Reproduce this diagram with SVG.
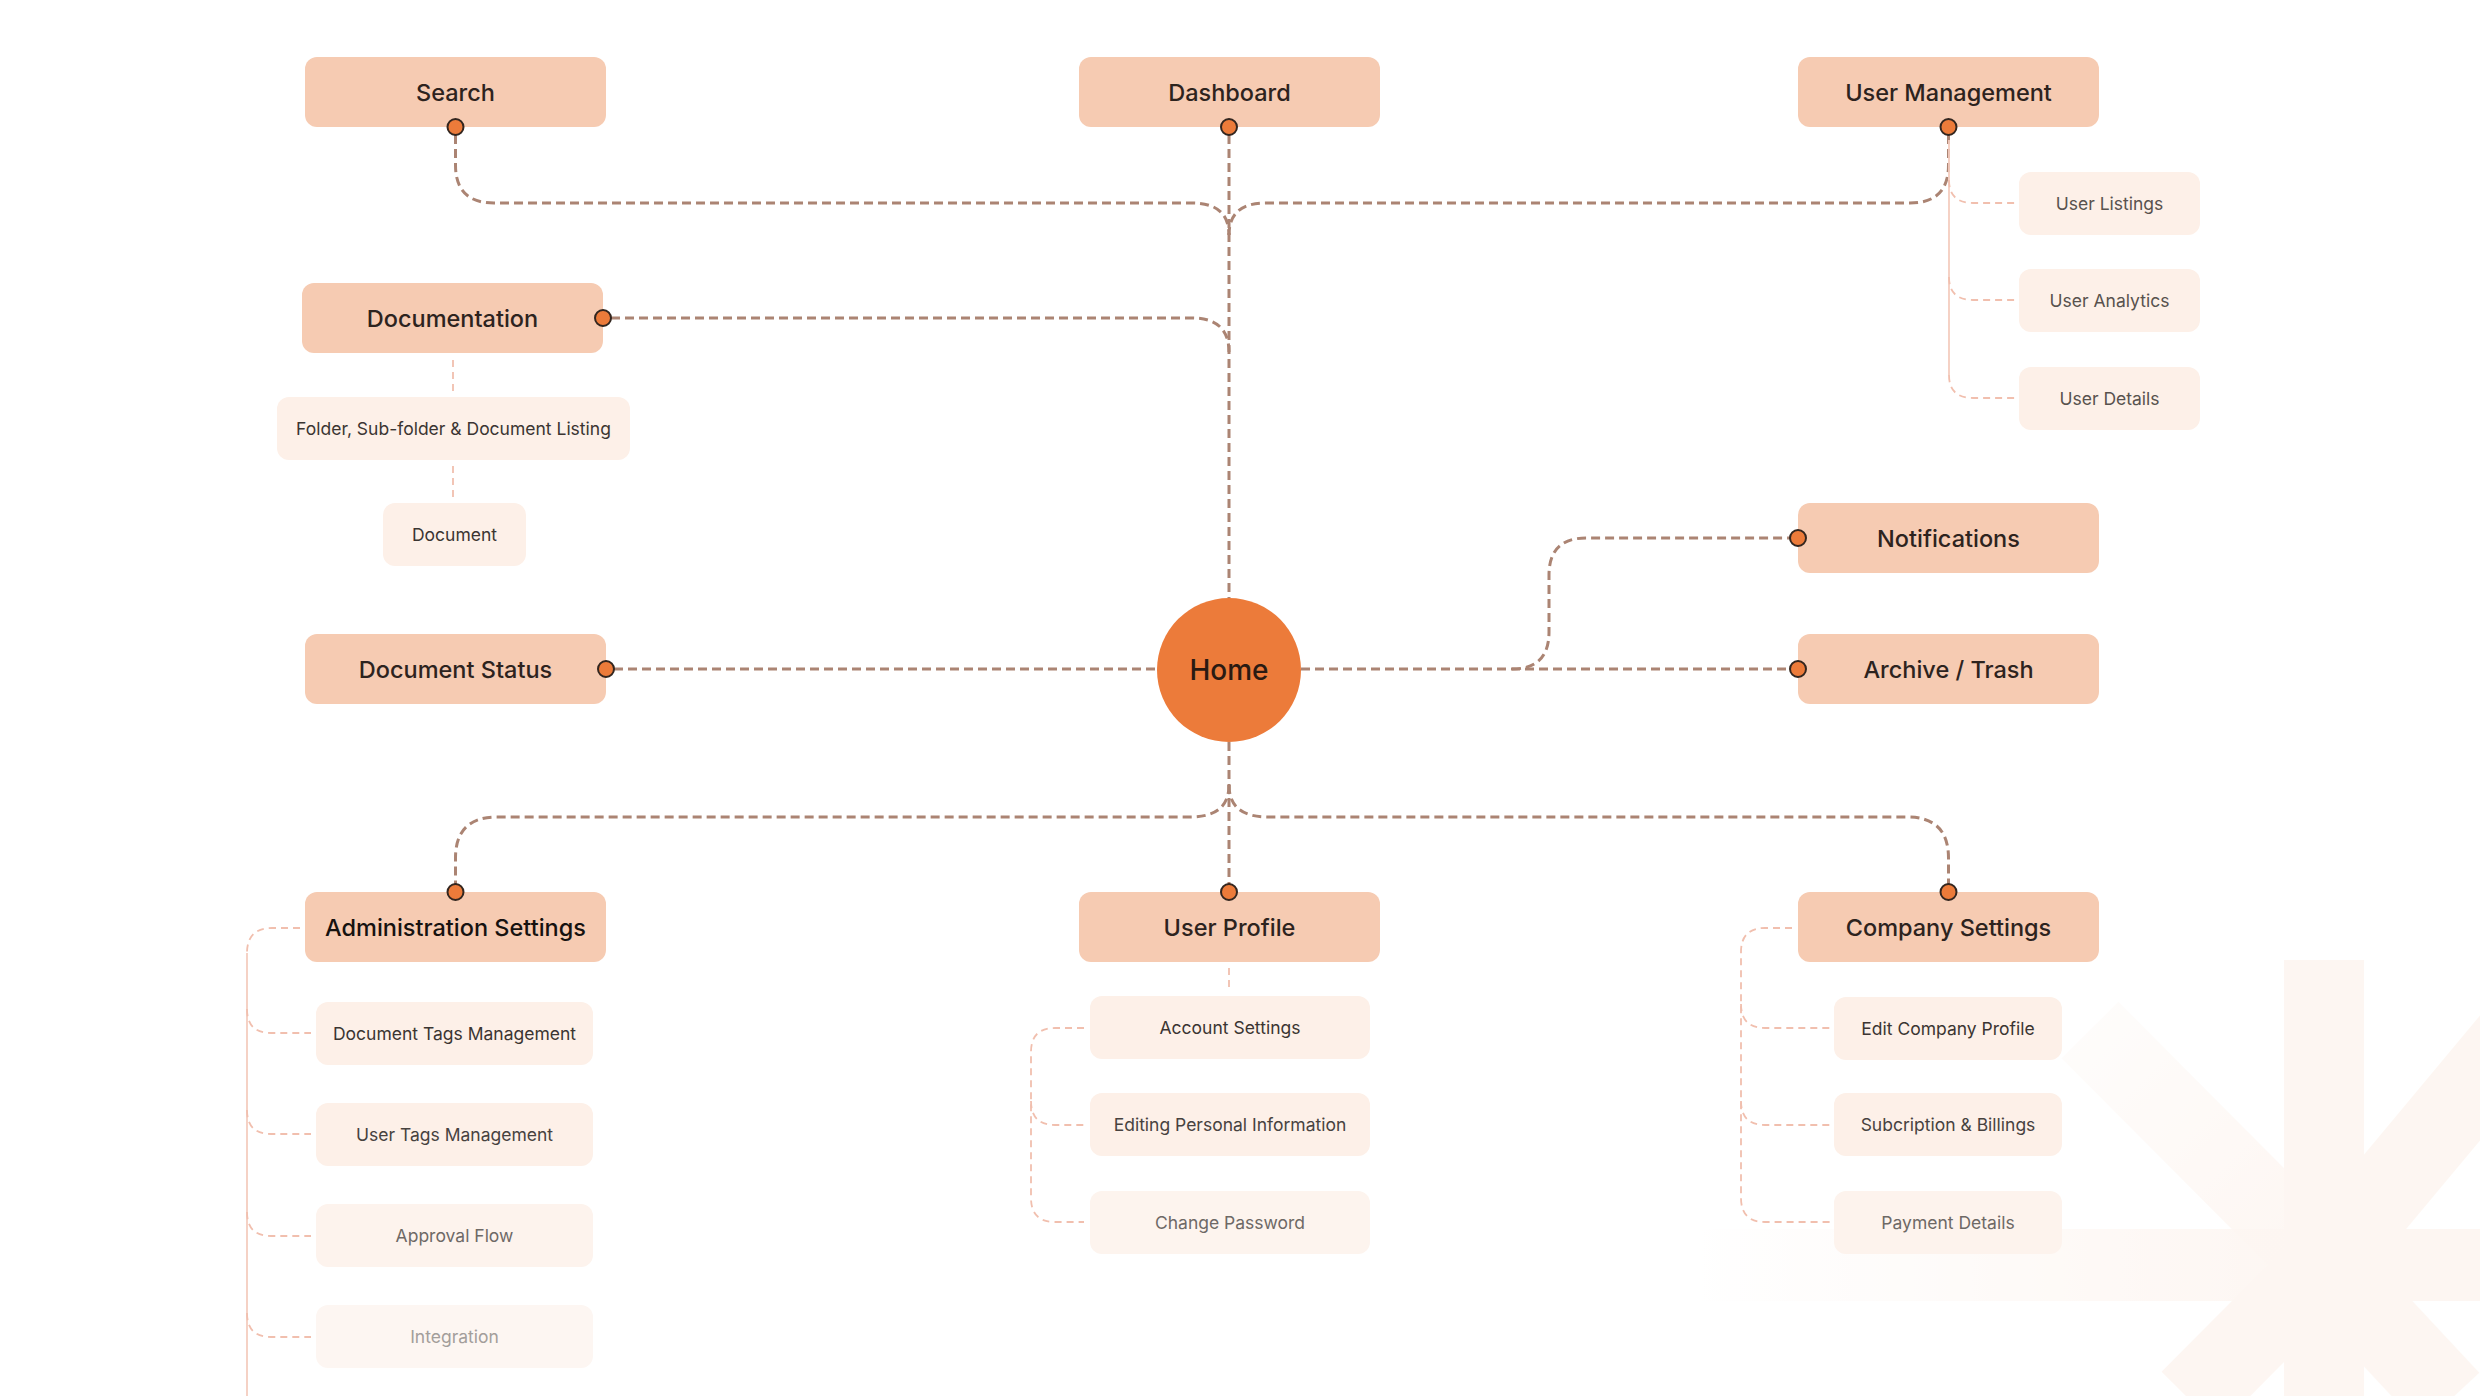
<svg xmlns="http://www.w3.org/2000/svg" width="2480" height="1396" viewBox="0 0 2480 1396">
<defs>
<linearGradient id="fadeL" x1="1700" y1="0" x2="2300" y2="0" gradientUnits="userSpaceOnUse">
<stop offset="0" stop-color="#fcebe0" stop-opacity="0"/>
<stop offset="1" stop-color="#fcebe0" stop-opacity="1"/>
</linearGradient>
<linearGradient id="fadeUL" x1="2090" y1="1030" x2="2324" y2="1265" gradientUnits="userSpaceOnUse">
<stop offset="0" stop-color="#fcebe0" stop-opacity="0.3"/>
<stop offset="1" stop-color="#fcebe0" stop-opacity="1"/>
</linearGradient>
<style>
text{font-family:Inter,"Liberation Sans",sans-serif;text-anchor:middle;dominant-baseline:central}
.main rect{fill:#f6cbb2}
.main text{font-size:23.5px;font-weight:500;fill:#2d231e}
.sub rect{fill:#fdf0e8}
.sub text{font-size:17.5px;font-weight:400;fill:#3b3532}
.dot{fill:#ec7b3a;stroke:#33261f;stroke-width:2}
.c{fill:none;stroke:#ab8473;stroke-width:3;stroke-dasharray:9 5}
.l{fill:none;stroke:#f1bfae;stroke-width:1.8;stroke-dasharray:7 5}
.ls{fill:none;stroke:#f4cdbf;stroke-width:1.8}
</style>
</defs>
<rect width="2480" height="1396" fill="#ffffff"/>
<g id="bg-mark" opacity="0.4" stroke-linecap="butt">
<line x1="1700" y1="1265" x2="2480" y2="1265" stroke="url(#fadeL)" stroke-width="72"/>
<line x1="2324" y1="1265" x2="2090" y2="1030" stroke="url(#fadeUL)" stroke-width="80"/>
<g stroke="#fcebe0" stroke-width="80">
<line x1="2324" y1="960" x2="2324" y2="1396"/>
<line x1="2324" y1="1265" x2="2520" y2="1030"/>
<line x1="2324" y1="1265" x2="2190" y2="1400"/>
<line x1="2324" y1="1265" x2="2450" y2="1400"/>
</g>
</g>
<g id="connectors">
<path class="c" d="M455.5,135 V165 Q455.5,203 494,203 H1192 Q1229,203 1229,235"/>
<path class="c" d="M1948.5,135 V165 Q1948.5,203 1910,203 H1266 Q1229,203 1229,235"/>
<path class="c" d="M1229,135 V598"/>
<path class="c" d="M611,318 H1192 Q1229,318 1229,352"/>
<path class="c" d="M614,669 H1157"/>
<path class="c" d="M1301,669 H1790"/>
<path class="c" d="M1512,669 Q1549,669 1549,632 V575 Q1549,538 1586,538 H1790"/>
<path class="c" d="M1229,742 V884"/>
<path class="c" d="M1229,785 Q1229,817 1190,817 H497 Q455.5,817 455.5,858 V884"/>
<path class="c" d="M1229,785 Q1229,817 1268,817 H1907 Q1948.5,817 1948.5,858 V884"/>
<path class="l" d="M453,360 V393"/>
<path class="l" d="M453,466 V499"/>
<path class="l" d="M1229,968 V992"/>
<path class="ls" d="M1949,140 V375"/>
<path class="l" d="M1949,180 Q1949,203 1973,203 H2015"/>
<path class="l" d="M1949,277 Q1949,300 1973,300 H2015"/>
<path class="l" d="M1949,375 Q1949,398 1973,398 H2015"/>
<path class="l" d="M300,928 H272 Q247,928 247,953"/>
<path class="ls" d="M247,953 V1396"/>
<path class="l" d="M247,1009 Q247,1033 271,1033 H311"/>
<path class="l" d="M247,1110 Q247,1134 271,1134 H311"/>
<path class="l" d="M247,1212 Q247,1236 271,1236 H311"/>
<path class="l" d="M247,1313 Q247,1337 271,1337 H311"/>
<path class="l" d="M1084,1028 H1055 Q1031,1028 1031,1052 V1198 Q1031,1222 1055,1222 H1084"/>
<path class="l" d="M1031,1101 Q1031,1125 1055,1125 H1084"/>
<path class="l" d="M1792,928 H1765 Q1741,928 1741,952 V1198 Q1741,1222 1765,1222 H1830"/>
<path class="l" d="M1741,1004 Q1741,1028 1765,1028 H1830"/>
<path class="l" d="M1741,1101 Q1741,1125 1765,1125 H1830"/>
</g>
<g id="home"><circle cx="1229" cy="670" r="72" fill="#ec7b3a"/><text x="1229" y="670" style="font-size:28px;font-weight:500;fill:#2a1a12">Home</text></g>
<g id="search" class="main"><rect x="305" y="57" width="301" height="70" rx="12"/><text x="455.5" y="92">Search</text><circle class="dot" cx="455.5" cy="127" r="8"/></g>
<g id="dashboard" class="main"><rect x="1079" y="57" width="301" height="70" rx="12"/><text x="1229.5" y="92">Dashboard</text><circle class="dot" cx="1229" cy="127" r="8"/></g>
<g id="user-management" class="main"><rect x="1798" y="57" width="301" height="70" rx="12"/><text x="1948.5" y="92">User Management</text><circle class="dot" cx="1948.5" cy="127" r="8"/></g>
<g id="documentation" class="main"><rect x="302" y="283" width="301" height="70" rx="12"/><text x="452.5" y="318">Documentation</text><circle class="dot" cx="603" cy="318" r="8"/></g>
<g id="document-status" class="main"><rect x="305" y="634" width="301" height="70" rx="12"/><text x="455.5" y="669">Document Status</text><circle class="dot" cx="606" cy="669" r="8"/></g>
<g id="notifications" class="main"><rect x="1798" y="503" width="301" height="70" rx="12"/><text x="1948.5" y="538">Notifications</text><circle class="dot" cx="1798" cy="538" r="8"/></g>
<g id="archive" class="main"><rect x="1798" y="634" width="301" height="70" rx="12"/><text x="1948.5" y="669">Archive / Trash</text><circle class="dot" cx="1798" cy="669" r="8"/></g>
<g id="admin-settings" class="main"><rect x="305" y="892" width="301" height="70" rx="12"/><text x="455.5" y="927" style="fill:#161210">Administration Settings</text><circle class="dot" cx="455.5" cy="892" r="8"/></g>
<g id="user-profile" class="main"><rect x="1079" y="892" width="301" height="70" rx="12"/><text x="1229.5" y="927">User Profile</text><circle class="dot" cx="1229" cy="892" r="8"/></g>
<g id="company-settings" class="main"><rect x="1798" y="892" width="301" height="70" rx="12"/><text x="1948.5" y="927">Company Settings</text><circle class="dot" cx="1948.5" cy="892" r="8"/></g>
<g id="user-listings" class="sub"><rect x="2019" y="172" width="181" height="63" rx="12"/><text x="2109.5" y="203.5" style="fill:#58524e">User Listings</text></g>
<g id="user-analytics" class="sub"><rect x="2019" y="269" width="181" height="63" rx="12"/><text x="2109.5" y="300.5" style="fill:#58524e">User Analytics</text></g>
<g id="user-details" class="sub"><rect x="2019" y="367" width="181" height="63" rx="12"/><text x="2109.5" y="398.5" style="fill:#58524e">User Details</text></g>
<g id="folder-listing" class="sub"><rect x="277" y="397" width="353" height="63" rx="12"/><text x="453.5" y="428.5">Folder, Sub-folder &amp; Document Listing</text></g>
<g id="document" class="sub"><rect x="383" y="503" width="143" height="63" rx="12"/><text x="454.5" y="534.5">Document</text></g>
<g id="doc-tags" class="sub"><rect x="316" y="1002" width="277" height="63" rx="12"/><text x="454.5" y="1033.5">Document Tags Management</text></g>
<g id="user-tags" class="sub"><rect x="316" y="1103" width="277" height="63" rx="12"/><text x="454.5" y="1134.5" style="fill:#47423f">User Tags Management</text></g>
<g id="approval-flow" class="sub"><rect x="316" y="1204" width="277" height="63" rx="12" style="fill:#fdf3ed"/><text x="454.5" y="1235.5" style="fill:#6e6966">Approval Flow</text></g>
<g id="integration" class="sub"><rect x="316" y="1305" width="277" height="63" rx="12" style="fill:#fdf6f2"/><text x="454.5" y="1336.5" style="fill:#a39e9b">Integration</text></g>
<g id="account-settings" class="sub"><rect x="1090" y="996" width="280" height="63" rx="12"/><text x="1230" y="1027.5">Account Settings</text></g>
<g id="editing-personal" class="sub"><rect x="1090" y="1093" width="280" height="63" rx="12"/><text x="1230" y="1124.5" style="fill:#47423f">Editing Personal Information</text></g>
<g id="change-password" class="sub"><rect x="1090" y="1191" width="280" height="63" rx="12" style="fill:#fdf4ee"/><text x="1230" y="1222.5" style="fill:#6e6966">Change Password</text></g>
<g id="edit-company" class="sub"><rect x="1834" y="997" width="228" height="63" rx="12"/><text x="1948" y="1028.5">Edit Company Profile</text></g>
<g id="subscription" class="sub"><rect x="1834" y="1093" width="228" height="63" rx="12"/><text x="1948" y="1124.5" style="fill:#47423f">Subcription &amp; Billings</text></g>
<g id="payment-details" class="sub"><rect x="1834" y="1191" width="228" height="63" rx="12" style="fill:#fdf3ed"/><text x="1948" y="1222.5" style="fill:#6e6966">Payment Details</text></g>
</svg>
